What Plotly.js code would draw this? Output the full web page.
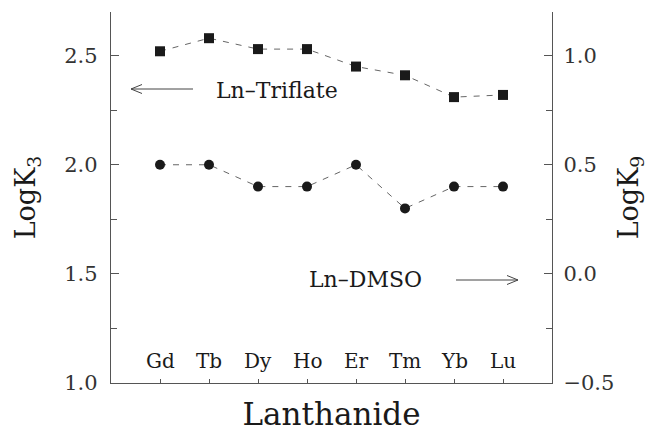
<!DOCTYPE html>
<html>
<head>
<meta charset="utf-8">
<script src="https://cdn.plot.ly/plotly-3.0.1.min.js"></script>
<style>html,body{margin:0;padding:0;background:#fff;}#chart{width:648px;height:432px;}</style>
</head>
<body>
<div id="chart"></div>
<script>
const categories = ["Gd", "Tb", "Dy", "Ho", "Er", "Tm", "Yb", "Lu"];
const triflateLogK3 = [2.52, 2.58, 2.53, 2.53, 2.45, 2.41, 2.31, 2.32];
const dmsoLogK9 = [0.50, 0.50, 0.40, 0.40, 0.50, 0.30, 0.40, 0.40];
const leftTicks = [1.0, 1.5, 2.0, 2.5];
const leftTickText = ["1.0", "1.5", "2.0", "2.5"];
const rightTicks = [-0.5, 0.0, 0.5, 1.0];
const rightTickText = ["\u22120.5", "0.0", "0.5", "1.0"];

const FONT = "DejaVu Serif, Liberation Serif, serif";
const INK = "#1a1a1a";
const AX = "#555";

const M = {l: 111, r: 96, t: 12, b: 49};
const PW = 648 - M.l - M.r, PH = 432 - M.t - M.b;
const px = v => (v - M.l) / PW;
const py = v => (432 - M.b - v) / PH;

function arrowPath(x0, x1, y, dir) {
  const hx = dir < 0 ? x0 : x1;
  const bx = hx - dir * 11;
  return `M${px(x0)},${py(y)} L${px(x1)},${py(y)} M${px(bx)},${py(y - 4.5)} L${px(hx)},${py(y)} L${px(bx)},${py(y + 4.5)}`;
}

const traces = [
  {
    x: categories, y: triflateLogK3, yaxis: "y", type: "scatter", mode: "lines+markers",
    name: "Ln-Triflate",
    line: {color: "#666", width: 1, dash: "6px,7px"},
    marker: {symbol: "square", size: 10, color: INK}
  },
  {
    x: categories, y: dmsoLogK9, yaxis: "y2", type: "scatter", mode: "lines+markers",
    name: "Ln-DMSO",
    line: {color: "#666", width: 1, dash: "6px,7px"},
    marker: {symbol: "circle", size: 10, color: INK}
  }
];

const catAnn = categories.map(c => ({
  x: c, xref: "x", y: py(361), yref: "paper", yanchor: "middle", xanchor: "center",
  text: c, showarrow: false, font: {family: FONT, size: 20, color: INK}
}));

const layout = {
  width: 648, height: 432,
  margin: M,
  paper_bgcolor: "#fff", plot_bgcolor: "#fff",
  showlegend: false,
  font: {family: FONT, color: INK},
  xaxis: {
    type: "category", range: [-1, 8], showgrid: false, zeroline: false,
    showline: true, linecolor: AX, linewidth: 1.2,
    ticks: "inside", ticklen: 4, tickcolor: AX, showticklabels: false,
    title: {text: "Lanthanide", font: {family: FONT, size: 31, color: INK}, standoff: 25}
  },
  yaxis: {
    range: [1.0, 2.7], showgrid: false, zeroline: false,
    showline: true, linecolor: AX, linewidth: 1.2,
    ticks: "inside", ticklen: 8, tickcolor: AX,
    tickvals: leftTicks, ticktext: leftTickText, ticklabelstandoff: 8,
    tickfont: {family: FONT, size: 21, color: "#333"},
    minor: {dtick: 0.25, tick0: 1.0, ticks: "inside", ticklen: 6, tickcolor: AX},
    title: {text: "LogK<sub>3</sub>", font: {family: FONT, size: 27, color: INK}, standoff: 20}
  },
  yaxis2: {
    overlaying: "y", side: "right", range: [-0.5, 1.2], showgrid: false, zeroline: false,
    showline: true, linecolor: AX, linewidth: 1.2,
    ticks: "inside", ticklen: 8, tickcolor: AX,
    tickvals: rightTicks, ticktext: rightTickText, ticklabelstandoff: 6,
    tickfont: {family: FONT, size: 21, color: "#333"},
    minor: {dtick: 0.25, tick0: -0.5, ticks: "inside", ticklen: 6, tickcolor: AX},
    title: {text: "LogK<sub>9</sub>", font: {family: FONT, size: 27, color: INK}, standoff: 11}
  },
  shapes: [
    {type: "path", xref: "paper", yref: "paper", path: arrowPath(131, 193, 89, -1),
     line: {color: "#444", width: 1}},
    {type: "path", xref: "paper", yref: "paper", path: arrowPath(456, 518, 280, 1),
     line: {color: "#444", width: 1}}
  ],
  annotations: catAnn.concat([
    {
      x: px(214), xref: "paper", y: py(90), yref: "paper", text: "Ln\u2013Triflate", showarrow: false,
      xanchor: "left", yanchor: "middle", font: {family: FONT, size: 22, color: INK}
    },
    {
      x: px(424), xref: "paper", y: py(279), yref: "paper", text: "Ln\u2013DMSO", showarrow: false,
      xanchor: "right", yanchor: "middle", font: {family: FONT, size: 22, color: INK}
    }
  ])
};

Plotly.newPlot("chart", traces, layout, {staticPlot: true, displayModeBar: false});
</script>
</body>
</html>
